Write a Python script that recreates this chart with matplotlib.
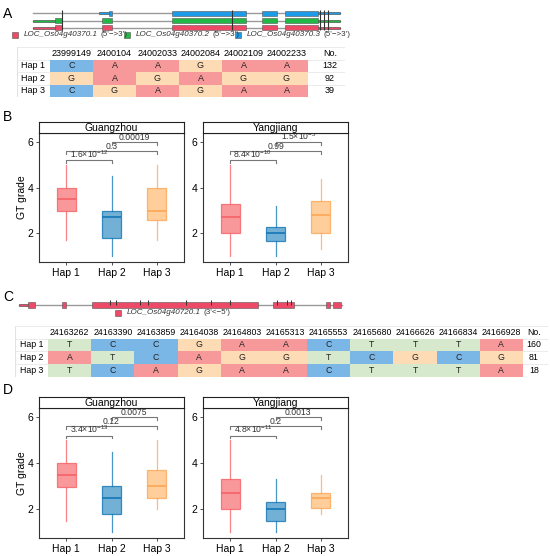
import matplotlib
matplotlib.use("Agg")
import matplotlib.pyplot as plt
from matplotlib.patches import Rectangle

plt.rcParams['font.family'] = ['Liberation Sans', 'DejaVu Sans']
plt.rcParams['mathtext.fontset'] = 'custom'
plt.rcParams['mathtext.rm'] = 'Liberation Sans'
plt.rcParams['mathtext.default'] = 'regular'

W, H = 550, 556

# ---- data ----
hap_labels = ['Hap 1', 'Hap 2', 'Hap 3']

snp_a = ['23999149', '2400104', '24002033', '24002084', '24002109', '24002233']
alleles_a = [['C', 'A', 'A', 'G', 'A', 'A'],
             ['G', 'A', 'G', 'A', 'G', 'G'],
             ['C', 'G', 'A', 'G', 'A', 'A']]
counts_a = [132, 92, 39]

snp_c = ['24163262', '24163390', '24163859', '24164038', '24164803', '24165313',
         '24165553', '24165680', '24166626', '24166834', '24166928']
alleles_c = [['T', 'C', 'C', 'G', 'A', 'A', 'C', 'T', 'T', 'T', 'A'],
             ['A', 'T', 'C', 'A', 'G', 'G', 'T', 'C', 'G', 'C', 'G'],
             ['T', 'C', 'A', 'G', 'A', 'A', 'C', 'T', 'T', 'T', 'A']]
counts_c = [160, 81, 18]

# gene structures (positions along the drawn locus)
gene_a_span = (33, 340)
gene_a_names = ['LOC_Os04g40370.3', 'LOC_Os04g40370.2', 'LOC_Os04g40370.1']
gene_a_utr = [[(99, 109), (318, 340)],
              [(33, 55), (318, 340)],
              [(33, 55), (318, 340)]]
gene_a_cds = [[(109, 112), (172, 246), (262, 277), (285, 318)],
              [(55, 62), (102, 112), (172, 246), (262, 277), (285, 318)],
              [(55, 62), (102, 112), (172, 246), (262, 277), (285, 318)]]
gene_a_snps = [62, 232, 320, 324, 328]

gene_c_name = 'LOC_Os04g40720.1'
gene_c_span = (19, 342)
gene_c_utr = [(19, 28)]
gene_c_cds = [(28, 35), (62, 66), (92, 258), (273, 294), (326, 330), (333, 341)]
gene_c_snps = [110, 116, 140, 148, 186, 211, 230, 277, 287, 291]

# box stats: (whislo, q1, med, q3, whishi)
b_gz = [(1.7, 3.0, 3.5, 4.0, 5.0), (1.0, 1.8, 2.7, 3.0, 4.5), (1.7, 2.6, 3.0, 4.0, 5.0)]
b_yj = [(1.0, 2.0, 2.7, 3.3, 5.0), (1.0, 1.67, 2.0, 2.3, 3.2), (1.3, 2.0, 2.8, 3.4, 4.4)]
d_gz = [(1.5, 2.95, 3.5, 4.0, 5.0), (1.0, 1.8, 2.5, 3.0, 4.5), (2.0, 2.5, 3.0, 3.72, 5.0)]
d_yj = [(1.0, 2.0, 2.7, 3.3, 5.0), (1.0, 1.5, 2.0, 2.3, 3.3), (1.8, 2.07, 2.5, 2.7, 3.5)]

b_gz_sig = [(1, 2, 5.2, '1.6×10$^{-12}$'), (1, 3, 5.6, '0.3'), (2, 3, 6.0, '0.00019')]
b_yj_sig = [(1, 2, 5.2, '8.4×10$^{-10}$'), (1, 3, 5.6, '0.99'), (2, 3, 6.0, '1.5×10$^{-5}$')]
d_gz_sig = [(1, 2, 5.2, '3.4×10$^{-13}$'), (1, 3, 5.6, '0.12'), (2, 3, 6.0, '0.0075')]
d_yj_sig = [(1, 2, 5.2, '4.8×10$^{-11}$'), (1, 3, 5.6, '0.2'), (2, 3, 6.0, '0.0013')]

hap_edge = ['#F6666B', '#1B7BB9', '#FDAA5C']
hap_fill = ['#F8868A', '#5BA2CF', '#FFC689']
allele_colors = {'A': '#F7999B', 'G': '#FDDBB5', 'C': '#7AB6E6', 'T': '#D7E9CC'}
gene_colors = ['#1E9BE6', '#22B845', '#EC4A66']

fig = plt.figure(figsize=(W / 100, H / 100), dpi=100)


def px_axes(l, t, r, b):
    return fig.add_axes([l / W, 1 - b / H, (r - l) / W, (b - t) / H])


def draw_track(ax, y, span, utrs, cdss, color, h=5):
    ax.plot(span, [y, y], color='#999999', lw=1, zorder=1)
    for s, e in utrs:
        ax.add_patch(Rectangle((s, y - h * 0.2), e - s, h * 0.4, facecolor=color,
                               edgecolor='#444444', lw=0.4, zorder=2))
    for s, e in cdss:
        ax.add_patch(Rectangle((s, y - h / 2), e - s, h, facecolor=color,
                               edgecolor='#555555', lw=0.4, zorder=2))


def legend_item(ax, x, y, color, name, suffix):
    ax.scatter([x], [y], marker='s', s=14, color=color, edgecolors='#555555', linewidths=0.4)
    t1 = ax.text(x + 9, y, name, fontsize=5.8, style='italic', va='center', color='#333333')
    ax.annotate(suffix, xy=(1, 0.5), xycoords=t1, xytext=(2, 0), textcoords='offset points',
                fontsize=5.8, va='center', color='#333333')


def draw_table(ax_box, snps, alleles, counts, fs, label_gap, count_x):
    l, t, r, b, cl, cr = ax_box
    ax = px_axes(l, t, r, b)
    n = len(snps)
    cw = (cr - cl) / n
    ax.set_xlim((l - cl) / cw, (r - cl) / cw)
    ax.set_ylim(2.5, -1.5)
    ax.axis('off')
    for i, row in enumerate(alleles):
        for j, a in enumerate(row):
            ax.add_patch(Rectangle((j, i - 0.5), 1, 1, facecolor=allele_colors[a],
                                   edgecolor='none'))
            ax.text(j + 0.5, i, a, ha='center', va='center', fontsize=fs, color='#222222')
        ax.text(-label_gap / cw, i, hap_labels[i], ha='right', va='center', fontsize=fs)
        ax.text((count_x - cl) / cw, i, str(counts[i]), ha='center', va='center', fontsize=fs)
    for j, s in enumerate(snps):
        ax.text(j + 0.5, -1, s, ha='center', va='center', fontsize=fs)
    ax.text((count_x - cl) / cw, -1, 'No.', ha='center', va='center', fontsize=fs)
    x0, x1 = ax.get_xlim()
    for yy in [-1.5, -0.5, 0.5, 1.5, 2.5]:
        ax.plot([x0, x1], [yy, yy], color='#E3E3E3', lw=0.5, zorder=0)
    ax.plot([x0, x0], [-1.5, 2.5], color='#E3E3E3', lw=0.8, zorder=0)


def draw_box(px, stats, sig, title, ylabel):
    l, t, r, b = px
    ax = px_axes(l, t, r, b)
    bx = [dict(whislo=s[0], q1=s[1], med=s[2], q3=s[3], whishi=s[4], fliers=[])
          for s in stats]
    for k in range(3):
        ax.bxp([bx[k]], positions=[k + 1], widths=0.42, patch_artist=True, showcaps=False,
               boxprops=dict(facecolor=hap_fill[k], edgecolor=hap_edge[k], lw=0.9, alpha=0.85),
               medianprops=dict(color=hap_edge[k], lw=1.3),
               whiskerprops=dict(color=hap_edge[k], lw=0.9, alpha=0.8))
    for i, j, y, lab in sig:
        ax.plot([i, i, j, j], [y - 0.12, y, y, y - 0.12], color='#777777', lw=0.8)
        ax.text((i + j) / 2, y + 0.01, lab, ha='center', va='bottom', fontsize=6.2, color='#333333')
    ax.set_xlim(0.4, 3.6)
    ax.set_ylim(0.75, 6.4)
    ax.set_yticks([2, 4, 6])
    ax.set_xticks([1, 2, 3])
    ax.set_xticklabels(hap_labels)
    ax.tick_params(labelsize=7.5, length=2.5, width=0.6, color='#333333', pad=1.5)
    for sp in ax.spines.values():
        sp.set_color('#333333')
        sp.set_linewidth(0.8)
    st = px_axes(l, t - 11, r, t)
    st.set_xticks([])
    st.set_yticks([])
    for sp in st.spines.values():
        sp.set_color('#222222')
        sp.set_linewidth(0.8)
    st.text(0.5, 0.5, title, ha='center', va='center', fontsize=7.5, transform=st.transAxes)
    if ylabel:
        fig.text(22 / W, 1 - (t + b) / 2 / H, 'GT grade', rotation=90, ha='center',
                 va='center', fontsize=7.5)


# ---- panel A ----
ga = px_axes(0, 0, 550, 42)
ga.set_xlim(0, 550)
ga.set_ylim(42, 0)
ga.axis('off')
track_y = [13, 20.5, 27.5]
for k in range(3):
    draw_track(ga, track_y[k], gene_a_span, gene_a_utr[k], gene_a_cds[k], gene_colors[k])
ga.vlines(gene_a_snps, 10, 30, color='#333333', lw=0.8, zorder=3)
leg_x = [15, 127, 238]
for k in range(3):
    idx = 2 - k
    legend_item(ga, leg_x[k], 35, gene_colors[idx], gene_a_names[idx], "(5'−>3')")
draw_table((17, 47, 345, 97, 50, 308), snp_a, alleles_a, counts_a, 6.5, 5, 330)

# ---- panel B ----
draw_box((39, 133, 184, 262), b_gz, b_gz_sig, 'Guangzhou', True)
draw_box((203, 133, 348, 262), b_yj, b_yj_sig, 'Yangjiang', False)

# ---- panel C ----
gc = px_axes(0, 290, 550, 318)
gc.set_xlim(0, 550)
gc.set_ylim(318, 290)
gc.axis('off')
draw_track(gc, 305, gene_c_span, gene_c_utr, gene_c_cds, gene_colors[2], h=6.5)
gc.vlines(gene_c_snps, 300, 305, color='#333333', lw=0.7, zorder=3)
legend_item(gc, 118, 312.5, gene_colors[2], gene_c_name, "(3'<−5')")
draw_table((15, 326, 548, 376.5, 48, 523), snp_c, alleles_c, counts_c, 6.3, 5, 534)

# ---- panel D ----
draw_box((39, 408, 184, 538), d_gz, d_gz_sig, 'Guangzhou', True)
draw_box((203, 408, 348, 538), d_yj, d_yj_sig, 'Yangjiang', False)

for lab, x, y in [('A', 8, 14), ('B', 8, 117), ('C', 8, 297), ('D', 8, 390)]:
    fig.text(x / W, 1 - y / H, lab, fontsize=10, ha='center', va='center')

fig.savefig('out.png', dpi=100)
